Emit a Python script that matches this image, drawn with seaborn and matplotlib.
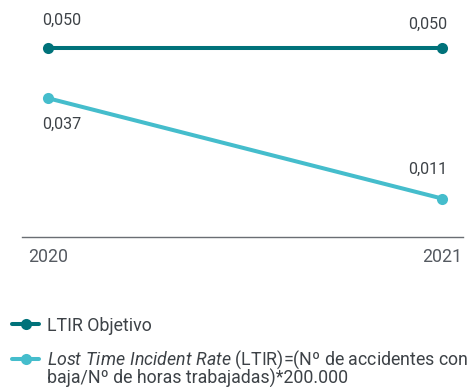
import matplotlib
matplotlib.use("Agg")
import matplotlib.pyplot as plt
import seaborn as sns
import pandas as pd

# Data
years = ["2020", "2021"]
ltir_objetivo = [0.050, 0.050]
ltir_real = [0.037, 0.011]
series_names = [
    "LTIR Objetivo",
    r"$\mathit{Lost\ Time\ Incident\ Rate}$ (LTIR)=(Nº de accidentes con",
]
legend_continuation = "baja/Nº de horas trabajadas)*200.000"

sns.set_theme(style="white")
plt.rcParams["font.family"] = ["Roboto", "DejaVu Sans"]
plt.rcParams["mathtext.fontset"] = "custom"
plt.rcParams["mathtext.rm"] = "Roboto"
plt.rcParams["mathtext.it"] = "Roboto:italic"

TEXT = "#3d4247"
COLORS = ["#00727a", "#45bdcc"]

df = pd.DataFrame({
    "year": list(range(len(years))) * 2,
    "value": ltir_objetivo + ltir_real,
    "serie": [series_names[0]] * len(years) + [series_names[1]] * len(years),
})

fig = plt.figure(figsize=(4.75, 3.87), dpi=100)
ax = fig.add_axes([0.0463, 0.3876, 0.9284, 0.587])

sns.lineplot(
    data=df, x="year", y="value", hue="serie", palette=COLORS,
    marker="o", markersize=8, markeredgewidth=0, linewidth=2.9,
    ax=ax, legend=True,
)

ax.set_xlim(-0.066, 1.053)
ax.set_ylim(0.00104, 0.0599)

# Value labels
def fmt(v):
    return f"{v:.3f}".replace(".", ",")

for vals, up in ((ltir_objetivo, True), (ltir_real, False)):
    for i, v in enumerate(vals):
        first = i == 0
        if up:
            dy = 20 if first else 17
        else:
            dy = -19 if first else 21
        ax.annotate(
            fmt(v), (i, v), xytext=(-4 if first else 4, dy),
            textcoords="offset points", ha="left" if first else "right",
            va="center", fontsize=11.5, color=TEXT,
        )

ax.set_xticks(range(len(years)))
ax.set_xticklabels(years, fontsize=12.8, color="#555a61")
ax.set_yticks([])
ax.set_xlabel("")
ax.set_ylabel("")
for s in ("top", "right", "left"):
    ax.spines[s].set_visible(False)
ax.spines["bottom"].set_color("#6a6e73")
ax.spines["bottom"].set_linewidth(1.0)
ax.tick_params(axis="x", length=0, pad=8)

handles, labels = ax.get_legend_handles_labels()
ax.get_legend().remove()
leg = fig.legend(
    handles, labels, loc="upper left", bbox_to_anchor=(0.01, 0.2),
    frameon=False, fontsize=12.8, labelcolor=TEXT, handlelength=1.55,
    handletextpad=0.4, labelspacing=0.8, borderaxespad=0.0,
)

# Second line of the long legend label, placed just under its first line
fig.canvas.draw()
txt = leg.get_texts()[1]
bb = txt.get_window_extent().transformed(fig.transFigure.inverted())
fig.text(bb.x0, bb.y0 - 17 / 387, legend_continuation, ha="left",
         va="bottom", fontsize=12.8, color=TEXT)

fig.savefig("out.png", dpi=100)
